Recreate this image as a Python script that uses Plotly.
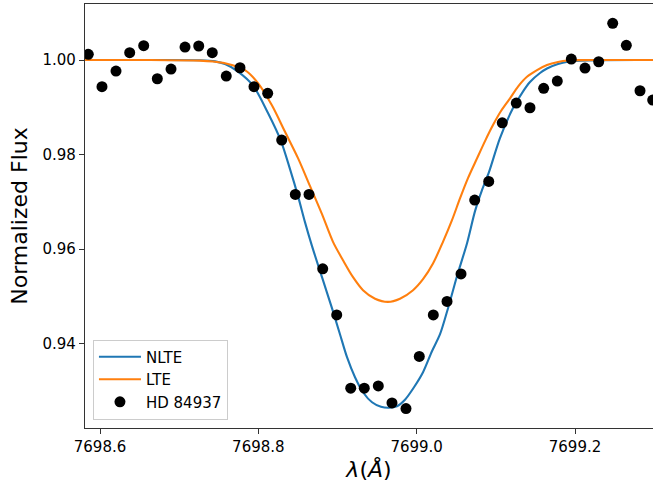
import plotly.graph_objects as go

# Observed spectrum (HD 84937)
obs_wave = [7698.5852, 7698.6025, 7698.6202, 7698.6375, 7698.6552, 7698.6724, 7698.6897,
            7698.7074, 7698.7247, 7698.7418, 7698.7595, 7698.7768, 7698.7945, 7698.8118,
            7698.8295, 7698.8467, 7698.8640, 7698.8813, 7698.8990, 7698.9167, 7698.9338,
            7698.9515, 7698.9688, 7698.9865, 7699.0033, 7699.0210, 7699.0383, 7699.0560,
            7699.0733, 7699.0910, 7699.1081, 7699.1258, 7699.1431, 7699.1604, 7699.1776,
            7699.1953, 7699.2126, 7699.2299, 7699.2476, 7699.2648, 7699.2821, 7699.2981]
obs_flux = [1.00121, 0.99435, 0.99767, 1.00155, 1.00303, 0.99604, 0.99809,
            1.00275, 1.00297, 1.00155, 0.99661, 0.99837, 0.99435, 0.99295,
            0.98306, 0.97156, 0.97156, 0.95580, 0.94606, 0.93054, 0.93054,
            0.93102, 0.92742, 0.92623, 0.93727, 0.94606, 0.94890, 0.95474,
            0.97035, 0.97431, 0.98672, 0.99089, 0.98990, 0.99401, 0.99555,
            1.00021, 0.99831, 0.99964, 1.00777, 1.00311, 0.99350, 0.99153]

# NLTE model profile
nlte_wave = [7698.5495, 7698.6632, 7698.7263, 7698.7453, 7698.7579, 7698.7743, 7698.7933,
             7698.8122, 7698.8286, 7698.8400, 7698.8501, 7698.8589, 7698.8678, 7698.8804,
             7698.8930, 7698.9031, 7698.9120, 7698.9221, 7698.9322, 7698.9436, 7698.9549,
             7698.9650, 7698.9751, 7698.9852, 7698.9966, 7699.0080, 7699.0193, 7699.0295,
             7699.0396, 7699.0509, 7699.0636, 7699.0737, 7699.0825, 7699.0913, 7699.1052,
             7699.1217, 7699.1330, 7699.1431, 7699.1558, 7699.1646, 7699.1785, 7699.1911,
             7699.2063, 7699.2316, 7699.3200]
nlte_flux = [1.00000, 1.00000, 0.99994, 0.99972, 0.99915, 0.99756, 0.99460,
             0.98877, 0.98284, 0.97691, 0.97120, 0.96569, 0.96061, 0.95404,
             0.94748, 0.94197, 0.93710, 0.93286, 0.92969, 0.92757, 0.92661,
             0.92640, 0.92672, 0.92810, 0.93074, 0.93392, 0.93837, 0.94197,
             0.94748, 0.95425, 0.96124, 0.96802, 0.97247, 0.97628, 0.98348,
             0.98983, 0.99301, 0.99534, 0.99725, 0.99820, 0.99915, 0.99964,
             0.99987, 0.99998, 1.00000]

# LTE model profile
lte_wave = [7698.5495, 7698.6632, 7698.7263, 7698.7427, 7698.7579, 7698.7831, 7698.7996,
            7698.8173, 7698.8337, 7698.8501, 7698.8653, 7698.8804, 7698.8943, 7698.9069,
            7698.9196, 7698.9322, 7698.9474, 7698.9638, 7698.9789, 7698.9954, 7699.0080,
            7699.0206, 7699.0332, 7699.0446, 7699.0547, 7699.0648, 7699.0762, 7699.0863,
            7699.0964, 7699.1065, 7699.1179, 7699.1280, 7699.1393, 7699.1520, 7699.1646,
            7699.1785, 7699.1911, 7699.2063, 7699.2316, 7699.3200]
lte_flux = [1.00000, 1.00000, 0.99987, 0.99968, 0.99930, 0.99788, 0.99513,
            0.99036, 0.98481, 0.97924, 0.97331, 0.96738, 0.96152, 0.95764,
            0.95404, 0.95129, 0.94949, 0.94881, 0.94949, 0.95129, 0.95362,
            0.95694, 0.96152, 0.96611, 0.97071, 0.97501, 0.97918, 0.98284,
            0.98623, 0.98920, 0.99189, 0.99439, 0.99646, 0.99788, 0.99894,
            0.99958, 0.99989, 0.99998, 1.00000, 1.00000]

x_ticks = [7698.6, 7698.8, 7699.0, 7699.2]
y_ticks = [0.94, 0.96, 0.98, 1.00]

font_family = "DejaVu Sans"

fig = go.Figure()
fig.add_trace(go.Scatter(x=nlte_wave, y=nlte_flux, mode="lines", name="NLTE",
                         line=dict(color="#1f77b4", width=2.1, shape="spline", smoothing=0.8)))
fig.add_trace(go.Scatter(x=lte_wave, y=lte_flux, mode="lines", name="LTE",
                         line=dict(color="#ff7f0e", width=2.1, shape="spline", smoothing=0.8)))
fig.add_trace(go.Scatter(x=obs_wave, y=obs_flux, mode="markers", name="HD 84937",
                         marker=dict(color="black", size=11)))

axis_common = dict(showgrid=False, zeroline=False, showline=True, linecolor="#333333",
                   linewidth=1.3, ticks="outside", ticklen=5, tickwidth=1.2,
                   automargin=False,
                   tickcolor="#333333", tickfont=dict(family=font_family, size=15, color="black"))

fig.update_layout(
    width=653, height=488,
    margin=dict(l=85, r=0, t=4, b=60, pad=0),
    paper_bgcolor="white", plot_bgcolor="white",
    font=dict(family=font_family, color="black"),
    showlegend=True,
    legend=dict(x=0.014, y=0.02, xanchor="left", yanchor="bottom",
                bgcolor="rgba(255,255,255,0.8)", bordercolor="#cccccc", borderwidth=1,
                font=dict(family=font_family, size=15, color="black"),
                tracegroupgap=0, itemwidth=42),
    xaxis=dict(range=[7698.58105, 7699.29849], tickvals=x_ticks, tickformat=".1f",
               mirror=True,
               title=dict(text="<i>λ</i>(<i>Å</i>)", font=dict(family=font_family, size=22),
                          standoff=6),
               **axis_common),
    yaxis=dict(range=[0.92212, 1.01186], tickvals=y_ticks, tickformat=".2f",
               title=dict(text="Normalized Flux", font=dict(family=font_family, size=22),
                          standoff=8),
               **axis_common),
)

fig.write_html("out.html", config={"displayModeBar": False},
               post_script="document.body.style.margin='0';document.body.style.overflow='hidden';")
